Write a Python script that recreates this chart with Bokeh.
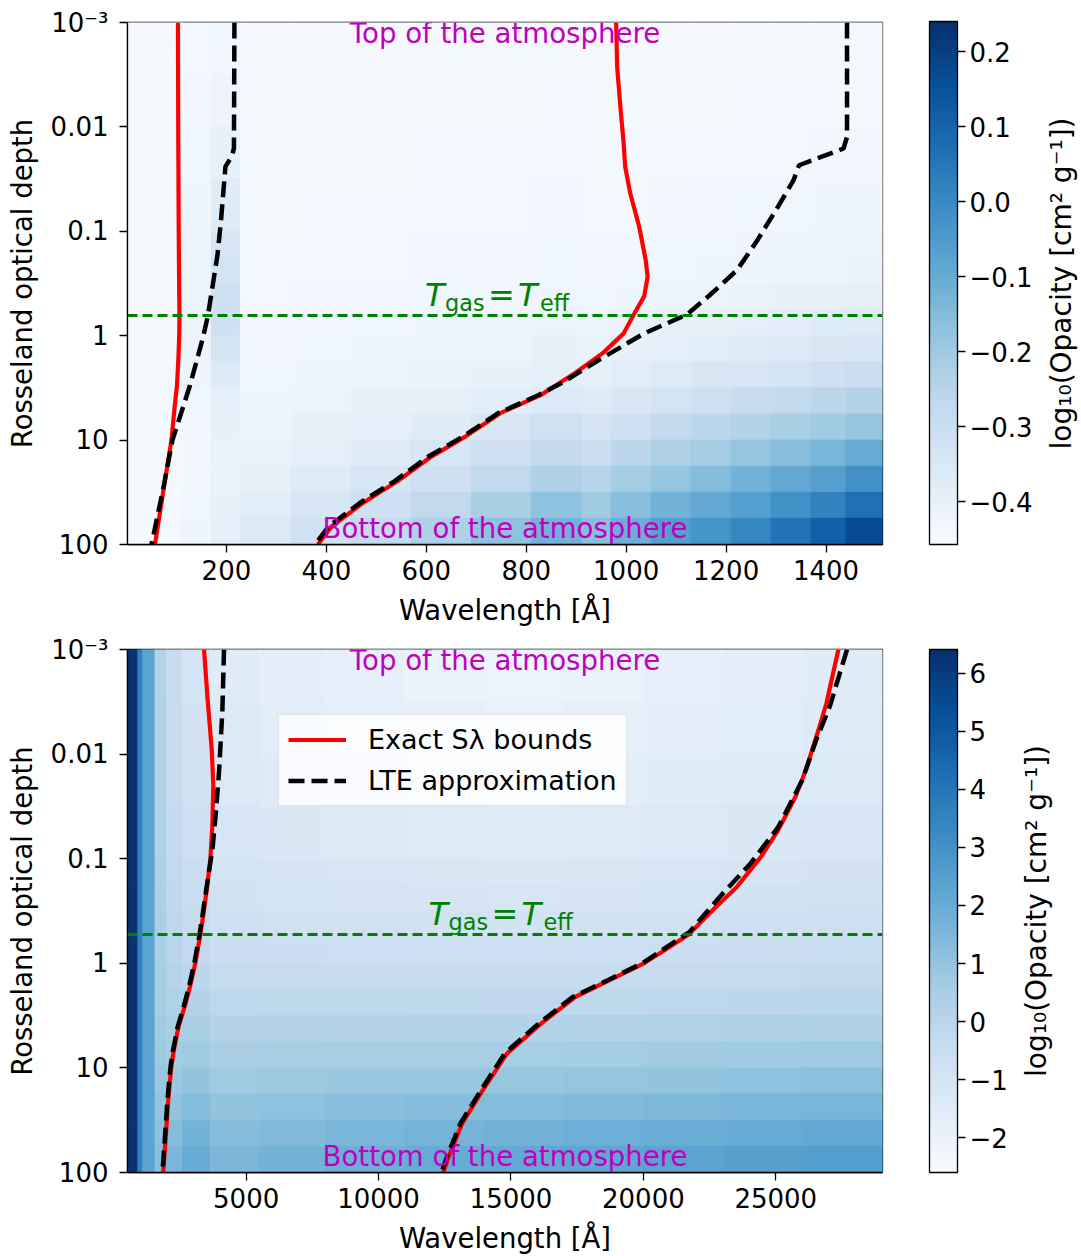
import math

from bokeh.core.properties import value
from bokeh.embed import file_html
from bokeh.layouts import column, row
from bokeh.models import (ColorBar, ColumnDataSource, FixedTicker, Label, Legend,
                          LegendItem, LinearColorMapper, Range1d, Span)
from bokeh.palettes import Blues256
from bokeh.plotting import figure
from bokeh.resources import INLINE
from bokeh.transform import linear_cmap

FONT = "DejaVu Sans"
MAGENTA = "#bf00bf"
GREEN = "#008000"
BLUES = list(reversed(Blues256))

# ---------------- shared optical-depth axis ----------------
tau_ticks = [1e-3, 1e-2, 1e-1, 1.0, 10.0, 100.0]
tau_tick_labels = ["10⁻³", "0.01", "0.1", "1", "10", "100"]
# opacity maps are tabulated in depth bands (log10 tau band edges)
tau_band_log_edges = [-3.0, -2.5, -2.0, -1.5, -1.0, -0.75, -0.5, -0.25, 0.0,
                      0.25, 0.5, 0.75, 1.0, 1.25, 1.5, 1.75, 2.0]

# ---------------- upper panel: far ultraviolet ----------------
uv_wl_range = [2, 1513]
uv_wl_ticks = [200, 400, 600, 800, 1000, 1200, 1400]
uv_tau_eff = 0.64
uv_cb_range = [-0.457, 0.24]
uv_cb_ticks = [-0.4, -0.3, -0.2, -0.1, 0.0, 0.1, 0.2]
uv_cb_labels = ["−0.4", "−0.3", "−0.2", "−0.1", "0.0", "0.1", "0.2"]

uv_band_wl_edges = [2, 110, 170, 228, 330, 450, 570, 690, 810, 912, 970, 1050, 1130, 1210, 1290, 1370, 1440, 1513]
uv_log_opacity = [
    [-0.447, -0.440, -0.430, -0.447, -0.447, -0.447, -0.447, -0.447, -0.445, -0.447, -0.447, -0.447, -0.447, -0.445, -0.445, -0.445, -0.443],
    [-0.447, -0.437, -0.420, -0.446, -0.446, -0.446, -0.445, -0.445, -0.443, -0.446, -0.445, -0.445, -0.444, -0.443, -0.442, -0.441, -0.440],
    [-0.446, -0.432, -0.400, -0.445, -0.445, -0.445, -0.443, -0.442, -0.440, -0.445, -0.443, -0.442, -0.441, -0.440, -0.438, -0.436, -0.434],
    [-0.446, -0.425, -0.370, -0.445, -0.443, -0.441, -0.440, -0.438, -0.435, -0.440, -0.438, -0.436, -0.434, -0.431, -0.429, -0.427, -0.424],
    [-0.446, -0.420, -0.340, -0.443, -0.441, -0.440, -0.437, -0.435, -0.432, -0.437, -0.434, -0.432, -0.429, -0.426, -0.423, -0.419, -0.415],
    [-0.446, -0.418, -0.330, -0.442, -0.440, -0.438, -0.435, -0.433, -0.430, -0.435, -0.432, -0.429, -0.426, -0.423, -0.419, -0.415, -0.410],
    [-0.446, -0.415, -0.310, -0.440, -0.437, -0.435, -0.432, -0.430, -0.425, -0.430, -0.425, -0.420, -0.415, -0.410, -0.405, -0.400, -0.395],
    [-0.446, -0.415, -0.310, -0.437, -0.434, -0.430, -0.426, -0.421, -0.415, -0.420, -0.410, -0.405, -0.400, -0.390, -0.385, -0.375, -0.370],
    [-0.446, -0.420, -0.330, -0.435, -0.430, -0.425, -0.420, -0.415, -0.405, -0.410, -0.400, -0.390, -0.380, -0.370, -0.360, -0.350, -0.340],
    [-0.446, -0.425, -0.360, -0.430, -0.425, -0.415, -0.410, -0.400, -0.390, -0.395, -0.380, -0.365, -0.350, -0.340, -0.330, -0.310, -0.300],
    [-0.446, -0.430, -0.390, -0.425, -0.415, -0.405, -0.395, -0.380, -0.360, -0.370, -0.350, -0.330, -0.310, -0.290, -0.280, -0.260, -0.240],
    [-0.446, -0.433, -0.405, -0.420, -0.405, -0.390, -0.375, -0.350, -0.320, -0.335, -0.310, -0.280, -0.260, -0.240, -0.220, -0.200, -0.180],
    [-0.446, -0.435, -0.410, -0.410, -0.390, -0.370, -0.345, -0.310, -0.280, -0.300, -0.260, -0.230, -0.210, -0.180, -0.160, -0.130, -0.100],
    [-0.445, -0.435, -0.410, -0.395, -0.370, -0.340, -0.310, -0.270, -0.230, -0.250, -0.210, -0.180, -0.150, -0.120, -0.090, -0.060, -0.020],
    [-0.445, -0.430, -0.400, -0.380, -0.345, -0.310, -0.270, -0.220, -0.170, -0.200, -0.160, -0.120, -0.090, -0.060, -0.020, 0.020, 0.070],
    [-0.445, -0.425, -0.390, -0.360, -0.320, -0.280, -0.230, -0.170, -0.120, -0.160, -0.110, -0.060, -0.030, 0.010, 0.060, 0.110, 0.170],
]

uv_exact_short_tau = [0.001, 0.01, 0.1, 0.4, 0.64, 1.0, 1.6, 3.0, 5.0, 10, 30, 100]
uv_exact_short_wl = [103, 103.5, 104.5, 105.5, 106, 105.5, 104, 101, 96, 90, 74, 57]
uv_lte_short_tau = [0.001, 0.016, 0.019, 0.024, 0.08, 0.17, 0.64, 1.0, 3.0, 10, 30, 100]
uv_lte_short_wl = [216, 215, 211, 198, 189, 182, 163, 154, 127, 92, 73, 50]
uv_exact_long_tau = [0.001, 0.0027, 0.0069, 0.0145, 0.024, 0.043, 0.09, 0.188, 0.272, 0.42, 0.63,
                     0.95, 1.47, 2.28, 3.68, 5.52, 9.2, 14.3, 24.8, 40, 66.9, 100]
uv_exact_long_wl = [980, 982, 989, 995, 998, 1008, 1026, 1039, 1043, 1036, 1015,
                    995, 953, 898, 830, 748, 679, 611, 542, 473, 411, 383]
uv_lte_long_tau = [0.001, 0.0125, 0.0161, 0.0233, 0.0324, 0.058, 0.121, 0.235, 0.41, 0.63, 0.95,
                   1.7, 2.84, 3.68, 5.52, 9.2, 14.3, 24.8, 40, 66.9, 100]
uv_lte_long_wl = [1442, 1442, 1435, 1346, 1335, 1304, 1263, 1222, 1167, 1121, 1036,
                  946, 871, 826, 744, 674, 605, 536, 467, 405, 377]

# ---------------- lower panel: optical / infrared ----------------
ir_wl_range = [520, 29030]
ir_wl_ticks = [5000, 10000, 15000, 20000, 25000]
ir_tau_eff = 0.53
ir_cb_range = [-2.6, 6.41]
ir_cb_ticks = [-2, -1, 0, 1, 2, 3, 4, 5, 6]
ir_cb_labels = ["−2", "−1", "0", "1", "2", "3", "4", "5", "6"]

ir_band_wl_edges = [520, 912, 1100, 1560, 2000, 2600, 3646, 5500, 8000, 11000, 14000, 17000, 20000, 23000, 26000, 29030]
ir_log_opacity = [
    [6.3, 3.6, 2.35, 0.20, -0.45, -1.00, -1.50, -1.70, -1.85, -2.00, -2.10, -2.00, -1.85, -1.70, -1.55],
    [6.3, 3.6, 2.35, 0.22, -0.40, -0.92, -1.40, -1.60, -1.73, -1.86, -1.95, -1.86, -1.72, -1.58, -1.44],
    [6.3, 3.6, 2.35, 0.25, -0.35, -0.82, -1.30, -1.45, -1.57, -1.67, -1.75, -1.67, -1.55, -1.42, -1.30],
    [6.3, 3.6, 2.35, 0.28, -0.28, -0.70, -1.15, -1.28, -1.37, -1.44, -1.50, -1.44, -1.34, -1.23, -1.12],
    [6.3, 3.6, 2.35, 0.32, -0.20, -0.57, -0.98, -1.08, -1.15, -1.20, -1.25, -1.20, -1.12, -1.03, -0.93],
    [6.3, 3.6, 2.35, 0.36, -0.14, -0.47, -0.85, -0.95, -1.00, -1.05, -1.10, -1.05, -0.98, -0.90, -0.81],
    [6.3, 3.6, 2.35, 0.40, -0.07, -0.35, -0.70, -0.78, -0.82, -0.86, -0.90, -0.86, -0.80, -0.73, -0.65],
    [6.3, 3.6, 2.35, 0.45, 0.02, -0.22, -0.55, -0.60, -0.63, -0.66, -0.70, -0.66, -0.61, -0.55, -0.48],
    [6.3, 3.6, 2.35, 0.52, 0.13, -0.05, -0.35, -0.38, -0.40, -0.42, -0.45, -0.42, -0.38, -0.33, -0.27],
    [6.3, 3.6, 2.35, 0.60, 0.27, 0.17, -0.10, -0.12, -0.12, -0.13, -0.15, -0.12, -0.08, -0.04, 0.01],
    [6.3, 3.6, 2.35, 0.69, 0.43, 0.43, 0.15, 0.15, 0.17, 0.19, 0.20, 0.23, 0.27, 0.31, 0.35],
    [6.3, 3.6, 2.35, 0.79, 0.62, 0.72, 0.45, 0.47, 0.50, 0.53, 0.55, 0.60, 0.65, 0.70, 0.75],
    [6.3, 3.6, 2.35, 0.90, 0.83, 1.04, 0.75, 0.80, 0.86, 0.90, 0.95, 1.00, 1.06, 1.12, 1.18],
    [6.3, 3.6, 2.35, 1.02, 1.06, 1.37, 1.05, 1.12, 1.22, 1.28, 1.35, 1.42, 1.49, 1.56, 1.63],
    [6.3, 3.6, 2.35, 1.14, 1.32, 1.70, 1.30, 1.42, 1.56, 1.66, 1.75, 1.84, 1.93, 2.01, 2.09],
    [6.3, 3.6, 2.35, 1.25, 1.58, 2.00, 1.55, 1.70, 1.88, 2.03, 2.15, 2.25, 2.35, 2.45, 2.55],
]

ir_exact_short_tau = [0.001, 0.003, 0.009, 0.02, 0.05, 0.1, 0.2, 0.35, 0.55, 1.0, 1.6, 2.5, 4.0, 7.0, 10, 20, 40, 100]
ir_exact_short_wl = [3410, 3545, 3700, 3760, 3720, 3650, 3510, 3380, 3260, 3080, 2900, 2700, 2450, 2260, 2170, 2060, 1980, 1870]
ir_lte_short_tau = [0.001, 0.004, 0.015, 0.038, 0.08, 0.2, 0.35, 0.55, 1.0, 1.6, 2.5, 4.0, 7.0, 10, 20, 40, 100]
ir_lte_short_wl = [4165, 4100, 3975, 3850, 3730, 3490, 3350, 3230, 3040, 2860, 2660, 2420, 2230, 2140, 2030, 1950, 1840]
ir_exact_long_tau = [0.001, 0.0033, 0.0055, 0.0143, 0.0257, 0.0535, 0.096, 0.186, 0.31, 0.53, 0.75,
                     1.0, 1.45, 2.1, 3.8, 7.3, 16.3, 34, 71, 100]
ir_exact_long_wl = [27365, 26908, 26648, 26131, 25738, 25089, 24440, 23530, 22621, 21712, 20800,
                    20022, 18723, 17422, 16124, 14848, 13939, 13158, 12641, 12445]
ir_lte_long_tau = [0.001, 0.0035, 0.0074, 0.0178, 0.05, 0.111, 0.232, 0.5, 1.0, 1.45, 2.1, 3.8,
                   7.3, 16.3, 34, 71, 100]
ir_lte_long_wl = [27690, 27040, 26520, 26000, 25089, 24048, 22881, 21750, 19960, 18650, 17330, 16030,
                  14760, 13870, 13090, 12580, 12380]

# ---------------- layout constants (pixels) ----------------
TOTAL_W, FIG_H = 1081, 628
FRAME_L, FRAME_R = 127, 882
FRAME_H = 523
CBAR_X = 929
BASELINE_DROP = 0.35  # alphabetic-baseline correction, in em
CB_TITLE = "log₁₀(Opacity [cm² g⁻¹])"


def label_overrides(ticks, labels):
    out = {}
    for t, s in zip(ticks, labels):
        out[float(t)] = s
        out[f"{t:g}"] = s
    return out


def band_cells(edges, table):
    cols = dict(left=[], right=[], top=[], bottom=[], val=[])
    for i, row_vals in enumerate(table):
        for j, v in enumerate(row_vals):
            cols["left"].append(edges[j])
            cols["right"].append(edges[j + 1])
            cols["top"].append(10 ** tau_band_log_edges[i])
            cols["bottom"].append(10 ** tau_band_log_edges[i + 1])
            cols["val"].append(v)
    return ColumnDataSource(cols)


def text_label(x, y, text, size, color, dx=0.0, dy=0.0, style="normal", align="left"):
    """Label whose baseline sits dy pixels above (x, y)."""
    return Label(x=x, y=y, x_offset=dx, y_offset=dy + BASELINE_DROP * size, text=text,
                 text_font=FONT, text_font_size=f"{size}px", text_font_style=style,
                 text_color=color, text_align=align, text_baseline="alphabetic")


def make_panel(width, wl_range, wl_ticks, tau_eff, cb_range, cb_ticks, cb_labels,
               band_edges, band_table, curves, border_top, teff_shift, with_legend):
    p = figure(width=width, height=FIG_H,
               x_range=Range1d(*wl_range),
               y_range=Range1d(tau_ticks[-1], tau_ticks[0]),
               y_axis_type="log",
               output_backend="svg", toolbar_location=None,
               min_border_left=FRAME_L, min_border_right=width - FRAME_R,
               min_border_top=border_top, min_border_bottom=FIG_H - border_top - FRAME_H)
    p.title.visible = False
    p.grid.visible = False
    p.outline_line_color = "black"
    p.outline_line_width = 1.3
    p.background_fill_color = "white"

    # opacity map
    lo, hi = cb_range
    src = band_cells(band_edges, band_table)
    cmap = linear_cmap("val", BLUES, lo, hi)
    p.quad(left="left", right="right", top="top", bottom="bottom", source=src,
           fill_color=cmap, line_color=cmap, line_width=1)

    # line-formation bounds
    red_r = None
    black_r = None
    for tau, wl, kind in curves:
        if kind == "exact":
            r = p.line(wl, tau, line_color="#ff0000", line_width=4.2)
            red_r = red_r or r
    for tau, wl, kind in curves:
        if kind == "lte":
            r = p.line(wl, tau, line_color="black", line_width=4.5, line_dash="16 7")
            black_r = black_r or r

    # T_gas = T_eff depth
    p.add_layout(Span(location=tau_eff, dimension="width", line_color=GREEN,
                      line_width=3, line_dash="10 5"))
    mid = 0.5 * (wl_range[0] + wl_range[1])
    pieces = [("T", -80, 9.3, 32, "italic"), ("gas", -60, 5.0, 22.4, "normal"),
              ("=", -17, 9.3, 32, "normal"), ("T", 13, 9.3, 32, "italic"),
              ("eff", 35, 5.0, 22.4, "normal")]
    for text, dx, dy, size, style in pieces:
        p.add_layout(text_label(mid, tau_eff, text, size, GREEN, dx=dx + teff_shift, dy=dy,
                                style=style))

    # top / bottom annotations
    p.add_layout(text_label(mid, tau_ticks[0], "Top of the atmosphere", 27.6, MAGENTA,
                            dy=-21.0, align="center"))
    p.add_layout(text_label(mid, tau_ticks[-1], "Bottom of the atmosphere", 27.6, MAGENTA,
                            dy=6.0, align="center"))

    # axes
    p.xaxis.ticker = FixedTicker(ticks=wl_ticks)
    p.yaxis.ticker = FixedTicker(ticks=tau_ticks)
    p.yaxis.major_label_overrides = label_overrides(tau_ticks, tau_tick_labels)
    p.xaxis.axis_label = "Wavelength [Å]"
    p.yaxis.axis_label = "Rosseland optical depth"
    for ax in (p.xaxis[0], p.yaxis[0]):
        ax.axis_label_text_font = FONT
        ax.axis_label_text_font_size = "27.5px"
        ax.axis_label_text_font_style = "normal"
        ax.axis_label_text_color = "black"
        ax.major_label_text_font = FONT
        ax.major_label_text_font_size = "26px"
        ax.major_label_text_color = "black"
        ax.major_tick_in = 0
        ax.major_tick_out = 8
        ax.major_tick_line_width = 1.3
        ax.major_tick_line_color = "black"
        ax.minor_tick_line_color = None
        ax.axis_line_width = 1.3
        ax.axis_line_color = "black"
    p.xaxis.major_label_standoff = 7
    p.xaxis.axis_label_standoff = 11
    p.yaxis.major_label_standoff = 11
    p.yaxis.axis_label_standoff = 10

    # colour bar
    mapper = LinearColorMapper(palette=BLUES, low=lo, high=hi)
    cb = ColorBar(color_mapper=mapper, location=(CBAR_X - FRAME_L, 0), width=28, height=FRAME_H,
                  padding=0, margin=0, ticker=FixedTicker(ticks=cb_ticks),
                  major_label_overrides=label_overrides(cb_ticks, cb_labels),
                  major_label_text_font=FONT, major_label_text_font_size="26px",
                  major_label_text_color="black",
                  major_tick_in=0, major_tick_out=8, major_tick_line_color="black",
                  major_tick_line_width=1.3, minor_tick_line_color=None,
                  bar_line_color="black", bar_line_width=1.3, label_standoff=4,
                  background_fill_alpha=0, border_line_color=None)
    p.add_layout(cb, "center")

    if with_legend:
        legend = Legend(items=[LegendItem(label="Exact Sλ bounds", renderers=[red_r]),
                               LegendItem(label="LTE approximation", renderers=[black_r])],
                        location=(151, 366), orientation="vertical",
                        label_text_font=FONT, label_text_font_size="27px",
                        label_text_color="black", glyph_width=58, glyph_height=31,
                        label_height=31, label_standoff=22, padding=9, spacing=10, margin=0,
                        border_line_color="#cccccc", border_line_width=1.3,
                        background_fill_color="white", background_fill_alpha=0.8)
        p.add_layout(legend, "center")
    return p


def make_cbar_title(width, center_x):
    """Narrow strip holding the rotated colour-bar title; its frame lines up with the panel frame."""
    s = figure(width=width, height=FIG_H, x_range=Range1d(0, width), y_range=Range1d(0, FRAME_H),
               output_backend="svg", toolbar_location=None, min_border=0,
               x_axis_location=None, y_axis_location=None)
    s.title.visible = False
    s.grid.visible = False
    s.outline_line_color = None
    s.text(x=[center_x], y=[FRAME_H / 2.0], text=[CB_TITLE],
           angle=math.pi / 2, text_align="center", text_baseline="middle",
           text_font=value(FONT), text_font_size=value("28px"), text_color="black")
    return s


uv_curves = [(uv_exact_short_tau, uv_exact_short_wl, "exact"),
             (uv_exact_long_tau, uv_exact_long_wl, "exact"),
             (uv_lte_short_tau, uv_lte_short_wl, "lte"),
             (uv_lte_long_tau, uv_lte_long_wl, "lte")]
ir_curves = [(ir_exact_short_tau, ir_exact_short_wl, "exact"),
             (ir_exact_long_tau, ir_exact_long_wl, "exact"),
             (ir_lte_short_tau, ir_lte_short_wl, "lte"),
             (ir_lte_long_tau, ir_lte_long_wl, "lte")]

UV_W, IR_W = 1043, 1016
p_uv = make_panel(UV_W, uv_wl_range, uv_wl_ticks, uv_tau_eff, uv_cb_range, uv_cb_ticks, uv_cb_labels,
                  uv_band_wl_edges, uv_log_opacity, uv_curves, border_top=22, teff_shift=0,
                  with_legend=False)
p_ir = make_panel(IR_W, ir_wl_range, ir_wl_ticks, ir_tau_eff, ir_cb_range, ir_cb_ticks, ir_cb_labels,
                  ir_band_wl_edges, ir_log_opacity, ir_curves, border_top=21, teff_shift=3.5,
                  with_legend=True)
t_uv = make_cbar_title(TOTAL_W - UV_W, 1061 - UV_W)
t_ir = make_cbar_title(TOTAL_W - IR_W, 1036 - IR_W)

layout = column(row(p_uv, t_uv, spacing=0), row(p_ir, t_ir, spacing=0), spacing=0)
open("out.html", "w").write(file_html(layout, INLINE))
